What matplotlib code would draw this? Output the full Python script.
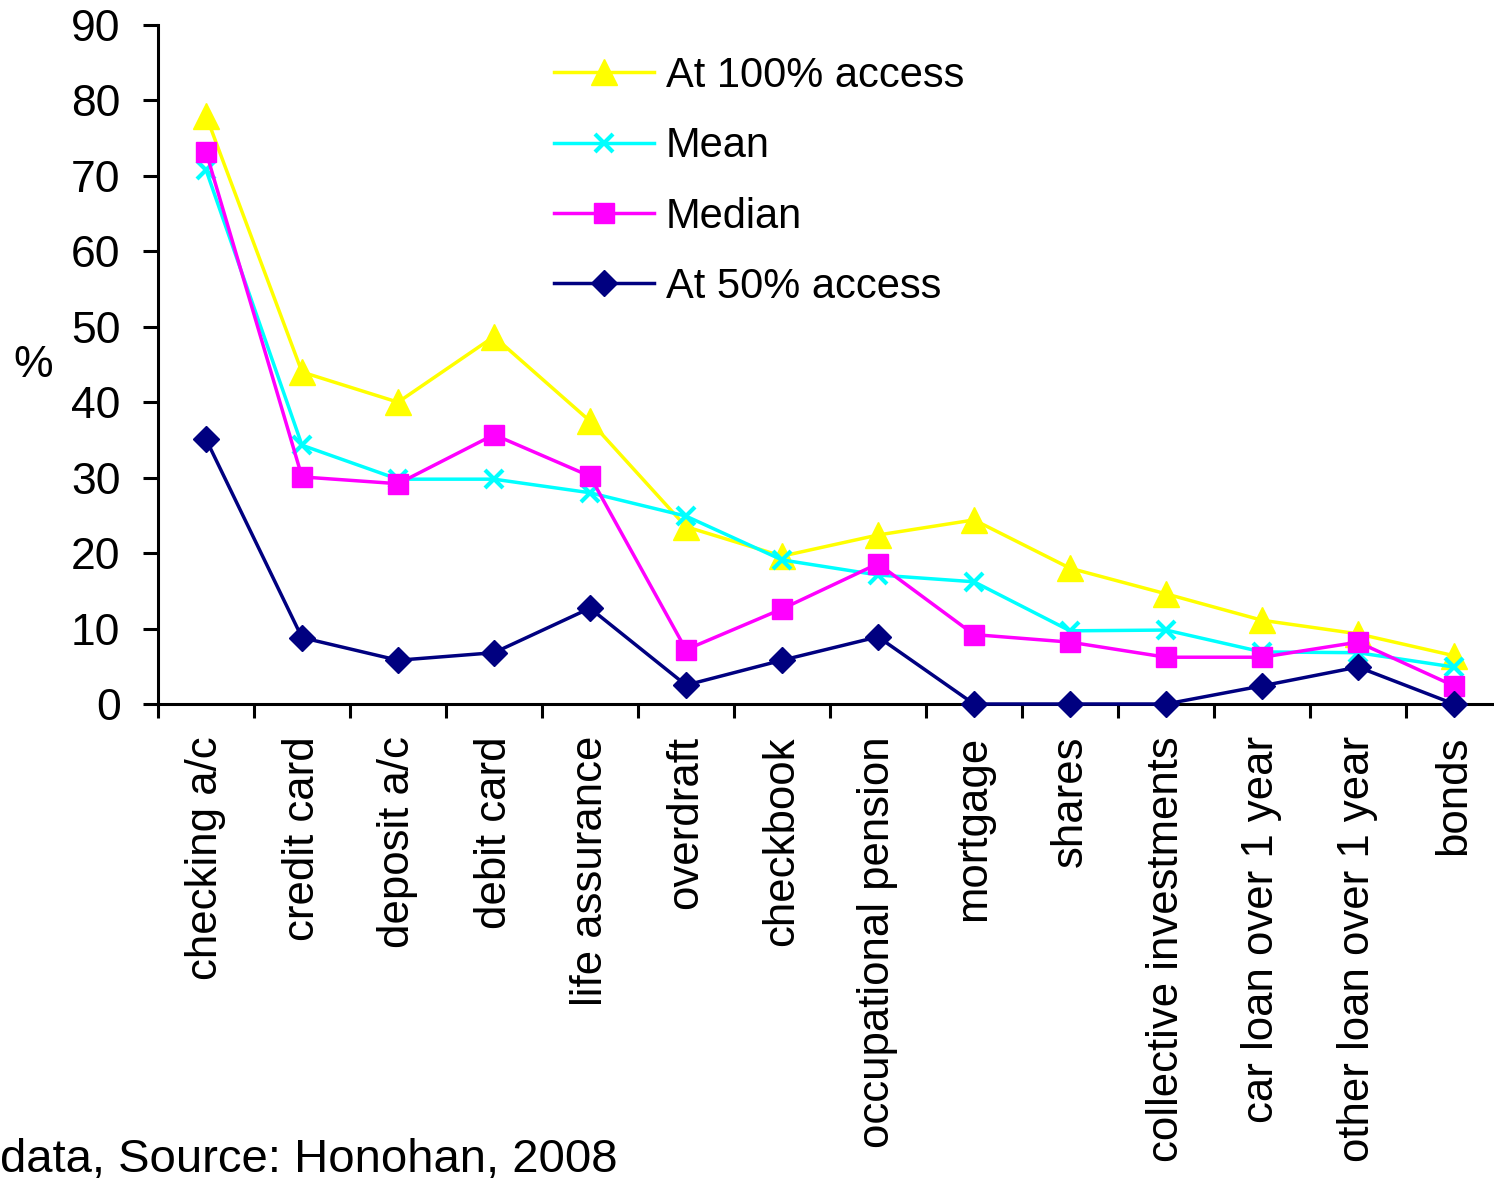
import matplotlib
matplotlib.use("Agg")
import matplotlib.pyplot as plt

plt.rcParams['font.family'] = ['Liberation Sans', 'DejaVu Sans']

categories = ["checking a/c", "credit card", "deposit a/c", "debit card", "life assurance",
              "overdraft", "checkbook", "occupational pension", "mortgage", "shares",
              "collective investments", "car loan over 1 year", "other loan over 1 year", "bonds"]
at100 = [78, 44, 40, 48.7, 37.5, 23.5, 19.6, 22.4, 24.4, 18, 14.6, 11.1, 9.3, 6.4]
mean = [70.8, 34.3, 29.8, 29.8, 28, 24.9, 19.1, 17.1, 16.2, 9.7, 9.8, 6.9, 6.8, 4.9]
median = [73.2, 30.1, 29.2, 35.7, 30.2, 7.2, 12.6, 18.6, 9.2, 8.2, 6.2, 6.2, 8.2, 2.4]
at50 = [35.1, 8.8, 5.8, 6.8, 12.7, 2.5, 5.8, 8.9, 0, 0, 0, 2.4, 4.9, 0]
yticks = [0, 10, 20, 30, 40, 50, 60, 70, 80, 90]

W, H = 1494, 1182
fig = plt.figure(figsize=(W/100, H/100), dpi=100)
ax = fig.add_axes([158/W, (H-704)/H, 1344/W, (704-25)/H])
x = list(range(len(categories)))

ax.plot(x, at100, color='#FFFF00', lw=2.5, marker='^', ms=19, mec='#FFFF00', label='At 100% access', zorder=3, clip_on=False)
ax.plot(x, mean, color='#00FFFF', lw=2.5, marker='x', ms=13, mew=3, label='Mean', zorder=4, clip_on=False)
ax.plot(x, median, color='#FF00FF', lw=2.5, marker='s', ms=15, label='Median', zorder=5, clip_on=False)
ax.plot(x, at50, color='#000080', lw=2.5, marker='D', ms=13, label='At 50% access', zorder=6, clip_on=False)

ax.set_xlim(-0.5, len(categories)-0.5)
ax.set_ylim(0, 90)
ax.set_yticks(yticks)
ax.set_yticklabels([str(v) for v in yticks], fontsize=32)
ax.set_xticks([i-0.5 for i in range(len(categories))])
ax.set_xticklabels([])
ax.set_xticks(x, minor=True)
ax.set_xticklabels(categories, minor=True, rotation=90, fontsize=31.5, va='top', ha='center')
ax.tick_params(axis='x', which='minor', length=0, pad=23)
ax.tick_params(axis='x', which='major', length=10, width=2.2, direction='out')
ax.tick_params(axis='y', length=11, width=2.2, direction='out', pad=16)
for s in ['top', 'right']:
    ax.spines[s].set_visible(False)
for s in ['left', 'bottom']:
    ax.spines[s].set_linewidth(2.2)

fig.text(33/W, 1-366/H, '%', fontsize=32, ha='center', va='center')

leg = ax.legend(loc='upper left', bbox_to_anchor=((533-158)/1344, (704-35)/679), frameon=False,
                fontsize=30, handlelength=2.4, labelspacing=0.73, handletextpad=0.29, borderpad=0)

fig.text(0, 1-1160/H, 'data, Source: Honohan, 2008', fontsize=34, ha='left', va='center')

fig.savefig('out.png', dpi=100)
